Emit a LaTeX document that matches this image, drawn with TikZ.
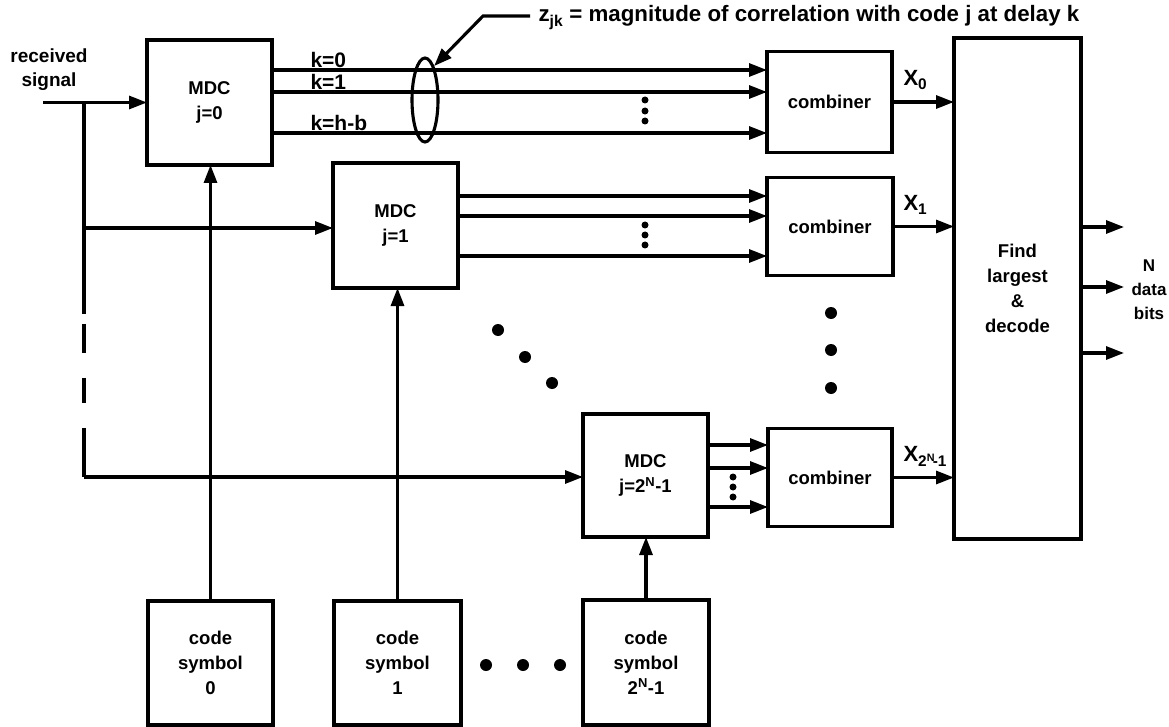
\documentclass[tikz,border=0pt]{standalone}
\usepackage{fontspec}
\setmainfont{Liberation Sans}
\usetikzlibrary{arrows.meta,shapes.geometric}
\begin{document}
\begin{tikzpicture}[x=1pt,y=-1pt,line width=3.1pt,
  font=\bfseries\fontsize{18.5}{25}\selectfont,
  box/.style={draw,inner sep=0pt,outer sep=0pt,align=center},
  arr/.style={-{Triangle[length=18pt,width=13pt]}},
  bigdot/.style={circle,fill,inner sep=0pt,minimum size=12pt},
  smalldot/.style={circle,fill,inner sep=0pt,minimum size=7pt},
  lab/.style={inner sep=0pt,anchor=base west},
  klab/.style={lab,font=\bfseries\fontsize{21}{25}\selectfont},
  xlab/.style={lab,font=\bfseries\fontsize{22}{25}\selectfont}]
\useasboundingbox (0,0) rectangle (1169,727);

% MDC boxes
\node[box,minimum width=125pt,minimum height=125pt] (mdc0) at (209.5,102.5) {MDC\\j=0};
\node[box,minimum width=125pt,minimum height=125pt] (mdc1) at (395.5,225.5) {MDC\\j=1};
\node[box,minimum width=125pt,minimum height=123pt] (mdc2) at (645.5,475.5) {MDC\\j=2\textsuperscript{N}-1};

% code symbol boxes
\node[box,minimum width=125pt,minimum height=124pt] (code0) at (210.5,663) {code\\symbol\\0};
\node[box,minimum width=127pt,minimum height=124pt] (code1) at (397.5,663) {code\\symbol\\1};
\node[box,minimum width=126pt,minimum height=125pt] (code2) at (646,662.5) {code\\symbol\\2\textsuperscript{N}-1};

% combiners
\node[box,minimum width=125pt,minimum height=101pt] (comb0) at (829.5,102) {combiner};
\node[box,minimum width=126pt,minimum height=98pt] (comb1) at (830,226.5) {combiner};
\node[box,minimum width=124pt,minimum height=98pt] (comb2) at (830,477.5) {combiner};

% find box
\node[box,minimum width=127pt,minimum height=501pt] (find) at (1017.5,288.5) {Find\\largest\\\&\\decode};

% received signal
\node[inner sep=0pt,align=center,font=\bfseries\fontsize{19}{24}\selectfont] (rx) at (49,70) {received\\signal};
\coordinate (rs) at (43,102.5);
\coordinate (j0) at (84,102.5);
\coordinate (j1) at (84,228);
\coordinate (j2) at (84,477);
\draw[arr] (rs) -- (rs -| mdc0.west);
\draw[dash pattern=on 211pt off 10pt on 29pt off 25pt on 25pt off 25pt on 60pt] (j0) -- (j2);
\draw[arr] (j1) -- (j1 -| mdc1.west);
\draw[arr] (j2) -- (j2 -| mdc2.west);

% code symbol to MDC
\draw[arr] (code0.north) -- (code0.north |- mdc0.south);
\draw[arr] (code1.north) -- (code1.north |- mdc1.south);
\draw[arr] (code2.north) -- (code2.north |- mdc2.south);

% MDC0 outputs
\draw[arr] (mdc0.east |- 0,70) -- (comb0.west |- 0,70);
\draw[arr] (mdc0.east |- 0,92) -- (comb0.west |- 0,92);
\draw[arr] (mdc0.east |- 0,133) -- (comb0.west |- 0,133);
\node[klab] (k0) at (309,67.5) {k=0};
\node[klab] (k1) at (309,89.5) {k=1};
\node[klab] (kh) at (309,130.5) {k=h-b};
\node[smalldot] (d01) at (645,100) {};
\node[smalldot] (d02) at (645,111) {};
\node[smalldot] (d03) at (645,121) {};

% MDC1 outputs
\draw[arr] (mdc1.east |- 0,196) -- (comb1.west |- 0,196);
\draw[arr] (mdc1.east |- 0,216) -- (comb1.west |- 0,216);
\draw[arr] (mdc1.east |- 0,256) -- (comb1.west |- 0,256);
\node[smalldot] (d11) at (645,225) {};
\node[smalldot] (d12) at (645,235) {};
\node[smalldot] (d13) at (645,245) {};

% MDC2 outputs
\draw[arr] (mdc2.east |- 0,445) -- (comb2.west |- 0,445);
\draw[arr] (mdc2.east |- 0,468) -- (comb2.west |- 0,468);
\draw[arr] (mdc2.east |- 0,507) -- (comb2.west |- 0,507);
\node[smalldot] (d21) at (733,477) {};
\node[smalldot] (d22) at (733,487) {};
\node[smalldot] (d23) at (733,497) {};

% ellipse and callout
\node[draw,ellipse,minimum width=26pt,minimum height=84pt,inner sep=0pt] (ell) at (425,100) {};
\coordinate (c0) at (530,16);
\coordinate (c1) at (483,16);
\draw[arr] (c0) -- (c1) -- (ell.75);
\node[lab,font=\bfseries\fontsize{22.3}{25}\selectfont] (title) at (537,22) {z\textsubscript{jk} = magnitude of correlation with code j at delay k};

% combiner outputs
\draw[arr] (comb0.east) -- (comb0.east -| find.west);
\draw[arr] (comb1.east) -- (comb1.east -| find.west);
\draw[arr] (comb2.east) -- (comb2.east -| find.west);
\node[xlab] (x0) at (902,86) {X\textsubscript{0}};
\node[xlab] (x1) at (902,211) {X\textsubscript{1}};
\node[xlab] (x2) at (902,461) {X\textsubscript{2\textsuperscript{N}\kern-0.15em-1}};

% find outputs
\coordinate (o1) at (1124,227);
\coordinate (o2) at (1124,287);
\coordinate (o3) at (1124,353);
\draw[arr] (o1 -| find.east) -- (o1);
\draw[arr] (o2 -| find.east) -- (o2);
\draw[arr] (o3 -| find.east) -- (o3);
\node[inner sep=0pt,align=center,font=\bfseries\fontsize{17}{24}\selectfont] (nbits) at (1149,290) {N\\data\\bits};

% ellipsis dots
\node[bigdot] (e1) at (498,330) {};
\node[bigdot] (e2) at (525,357) {};
\node[bigdot] (e3) at (552,383) {};
\node[bigdot] (f1) at (831,313) {};
\node[bigdot] (f2) at (831,350) {};
\node[bigdot] (f3) at (831,388) {};
\node[bigdot] (g1) at (486,665) {};
\node[bigdot] (g2) at (523,665) {};
\node[bigdot] (g3) at (560,665) {};
\end{tikzpicture}
\end{document}
